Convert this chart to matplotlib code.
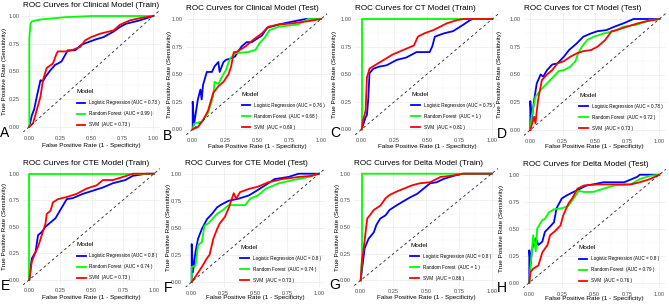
import matplotlib
matplotlib.use("Agg")
import matplotlib.pyplot as plt
from matplotlib.lines import Line2D
from matplotlib.ticker import MultipleLocator

plt.rcParams['font.family'] = ['Liberation Sans Narrow', 'Liberation Sans', 'DejaVu Sans']

# ---------------- data ----------------
titles = ["ROC Curves for Clinical Model (Train)", "ROC Curves for Clinical Model (Test)",
          "ROC Curves for CT Model (Train)", "ROC Curves for CT Model (Test)",
          "ROC Curves for CTE Model (Train)", "ROC Curves for CTE Model (Test)",
          "ROC Curves for Delta Model (Train)", "ROC Curves for Delta Model (Test)"]
letters = ["A", "B", "C", "D", "E", "F", "G", "H"]
models = ["Logistic Regression", "Random Forest ", "SVM "]
aucs = [["0.73", "0.99", "0.73"], ["0.76", "0.68", "0.69"],
        ["0.75", "1", "0.81"], ["0.78", "0.72", "0.73"],
        ["0.8", "0.74", "0.73"], ["0.8", "0.74", "0.73"],
        ["0.8", "1", "0.86"], ["0.8", "0.79", "0.76"]]

# A - clinical train
a_lr_x = [0, 0.02, 0.04, 0.06, 0.09, 0.11, 0.13, 0.17, 0.21, 0.23, 0.26, 0.29, 0.31, 0.37, 0.42, 0.49, 0.54, 0.60, 0.68, 0.73, 0.78, 0.89, 1.0]
a_lr_y = [0, 0.10, 0.16, 0.27, 0.42, 0.41, 0.45, 0.51, 0.56, 0.57, 0.59, 0.65, 0.69, 0.69, 0.74, 0.77, 0.79, 0.81, 0.86, 0.90, 0.93, 0.96, 1.0]
a_rf_x = [0, 0.0, 0.01, 0.02, 0.05, 0.10, 0.20, 0.30, 0.50, 1.0]
a_rf_y = [0, 0.80, 0.93, 0.95, 0.96, 0.97, 0.98, 0.99, 1.0, 1.0]
a_svm_x = [0, 0.03, 0.06, 0.09, 0.11, 0.14, 0.19, 0.22, 0.23, 0.30, 0.34, 0.41, 0.45, 0.50, 0.57, 0.68, 0.73, 0.81, 0.89, 1.0]
a_svm_y = [0, 0.03, 0.15, 0.27, 0.42, 0.53, 0.57, 0.66, 0.68, 0.68, 0.69, 0.72, 0.78, 0.81, 0.84, 0.87, 0.92, 0.96, 0.98, 1.0]

# B - clinical test
b_lr_x = [0, 0.0, 0.01, 0.04, 0.06, 0.07, 0.08, 0.11, 0.15, 0.17, 0.20, 0.21, 0.24, 0.26, 0.29, 0.33, 0.38, 0.42, 0.46, 0.50, 0.54, 0.58, 0.67, 0.75, 0.88, 1.0]
b_lr_y = [0, 0.25, 0.04, 0.27, 0.36, 0.27, 0.40, 0.52, 0.52, 0.57, 0.61, 0.52, 0.61, 0.63, 0.64, 0.66, 0.75, 0.79, 0.79, 0.82, 0.85, 0.92, 0.95, 0.97, 1.0, 1.0]
b_rf_x = [0, 0.01, 0.07, 0.12, 0.16, 0.17, 0.20, 0.23, 0.26, 0.29, 0.33, 0.43, 0.49, 0.52, 0.56, 0.60, 0.67, 0.82, 0.90, 1.0]
b_rf_y = [0, 0.05, 0.07, 0.15, 0.30, 0.43, 0.41, 0.48, 0.54, 0.64, 0.69, 0.70, 0.72, 0.78, 0.83, 0.90, 0.93, 0.95, 1.0, 1.0]
b_svm_x = [0, 0.04, 0.08, 0.12, 0.16, 0.20, 0.24, 0.28, 0.30, 0.32, 0.34, 0.41, 0.47, 0.54, 0.59, 0.67, 0.77, 0.90, 1.0]
b_svm_y = [0, 0.02, 0.08, 0.17, 0.33, 0.39, 0.43, 0.50, 0.57, 0.70, 0.70, 0.75, 0.81, 0.87, 0.93, 0.95, 0.96, 0.98, 1.0]

# C - CT train
c_lr_x = [0, 0.03, 0.04, 0.05, 0.06, 0.09, 0.14, 0.19, 0.27, 0.34, 0.42, 0.52, 0.54, 0.56, 0.63, 0.70, 0.74, 0.78, 0.83, 0.85, 1.0]
c_lr_y = [0, 0.11, 0.13, 0.27, 0.51, 0.55, 0.57, 0.58, 0.63, 0.65, 0.70, 0.70, 0.75, 0.84, 0.87, 0.89, 0.92, 0.95, 0.99, 1.0, 1.0]
c_rf_x = [0, 0.0, 0.02, 0.02, 1.0]
c_rf_y = [0, 1.0, 1.0, 1.0, 1.0]
c_svm_x = [0, 0.01, 0.03, 0.04, 0.06, 0.10, 0.17, 0.24, 0.32, 0.40, 0.43, 0.48, 0.55, 0.60, 0.65, 0.73, 0.78, 1.0]
c_svm_y = [0, 0.08, 0.17, 0.47, 0.55, 0.58, 0.63, 0.68, 0.72, 0.76, 0.84, 0.87, 0.90, 0.93, 0.96, 0.99, 1.0, 1.0]

# D - CT test
d_lr_x = [0, 0.0, 0.01, 0.03, 0.05, 0.08, 0.10, 0.13, 0.17, 0.21, 0.26, 0.30, 0.32, 0.36, 0.41, 0.47, 0.52, 0.59, 0.65, 0.72, 0.80, 1.0]
d_lr_y = [0, 0.26, 0.09, 0.27, 0.42, 0.50, 0.48, 0.54, 0.59, 0.60, 0.66, 0.72, 0.74, 0.78, 0.84, 0.87, 0.89, 0.90, 0.93, 0.96, 1.0, 1.0]
d_rf_x = [0, 0.01, 0.04, 0.08, 0.13, 0.18, 0.22, 0.26, 0.31, 0.35, 0.37, 0.40, 0.44, 0.49, 0.57, 0.65, 0.72, 0.83, 0.93, 1.0]
d_rf_y = [0, 0.12, 0.30, 0.36, 0.42, 0.48, 0.53, 0.54, 0.57, 0.62, 0.69, 0.75, 0.81, 0.84, 0.87, 0.89, 0.93, 0.95, 0.99, 1.0]
d_svm_x = [0, 0.03, 0.04, 0.06, 0.09, 0.13, 0.17, 0.21, 0.26, 0.31, 0.36, 0.41, 0.47, 0.52, 0.58, 0.63, 0.67, 0.72, 0.83, 0.90, 1.0]
d_svm_y = [0, 0.12, 0.06, 0.27, 0.45, 0.50, 0.54, 0.60, 0.62, 0.66, 0.69, 0.71, 0.72, 0.75, 0.81, 0.89, 0.90, 0.92, 0.96, 0.98, 1.0]

# E - CTE train
e_lr_x = [0, 0.01, 0.02, 0.05, 0.07, 0.10, 0.13, 0.17, 0.21, 0.23, 0.27, 0.30, 0.35, 0.43, 0.51, 0.59, 0.67, 0.77, 0.83, 0.94, 1.0]
e_lr_y = [0, 0.10, 0.20, 0.26, 0.42, 0.45, 0.50, 0.54, 0.58, 0.62, 0.70, 0.76, 0.77, 0.81, 0.84, 0.87, 0.91, 0.94, 0.98, 1.0, 1.0]
e_rf_x = [0, 0.0, 0.01, 0.01, 1.0]
e_rf_y = [0, 1.0, 1.0, 1.0, 1.0]
e_svm_x = [0, 0.02, 0.05, 0.07, 0.10, 0.13, 0.14, 0.17, 0.19, 0.23, 0.30, 0.38, 0.46, 0.54, 0.59, 0.67, 0.78, 0.83, 1.0]
e_svm_y = [0, 0.17, 0.26, 0.31, 0.42, 0.53, 0.62, 0.65, 0.73, 0.76, 0.78, 0.81, 0.86, 0.89, 0.94, 0.94, 0.98, 1.0, 1.0]

# F - CTE test
f_lr_x = [0, 0.0, 0.01, 0.03, 0.05, 0.08, 0.12, 0.16, 0.20, 0.24, 0.29, 0.37, 0.45, 0.52, 0.60, 0.65, 0.76, 0.84, 1.0]
f_lr_y = [0, 0.35, 0.09, 0.28, 0.40, 0.49, 0.58, 0.63, 0.69, 0.72, 0.75, 0.77, 0.80, 0.85, 0.91, 0.95, 0.97, 1.0, 1.0]
f_rf_x = [0, 0.0, 0.03, 0.05, 0.08, 0.10, 0.13, 0.16, 0.20, 0.24, 0.29, 0.34, 0.42, 0.46, 0.52, 0.58, 0.68, 0.79, 0.92, 1.0]
f_rf_y = [0, 0.14, 0.15, 0.34, 0.37, 0.52, 0.54, 0.58, 0.63, 0.66, 0.71, 0.71, 0.71, 0.77, 0.80, 0.86, 0.91, 0.94, 0.97, 1.0]
f_svm_x = [0, 0.03, 0.08, 0.12, 0.14, 0.17, 0.20, 0.22, 0.26, 0.29, 0.33, 0.35, 0.38, 0.45, 0.52, 0.60, 0.71, 0.84, 0.94, 1.0]
f_svm_y = [0, 0.05, 0.14, 0.22, 0.25, 0.40, 0.49, 0.54, 0.60, 0.68, 0.82, 0.77, 0.83, 0.86, 0.88, 0.92, 0.95, 0.97, 0.98, 1.0]

# G - delta train
g_lr_x = [0, 0.02, 0.03, 0.06, 0.10, 0.12, 0.15, 0.19, 0.22, 0.27, 0.31, 0.38, 0.43, 0.48, 0.53, 0.58, 0.63, 0.71, 0.78, 1.0]
g_lr_y = [0, 0.20, 0.30, 0.39, 0.45, 0.52, 0.58, 0.61, 0.66, 0.70, 0.73, 0.78, 0.81, 0.86, 0.91, 0.92, 0.95, 0.98, 1.0, 1.0]
g_rf_x = [0, 0.01, 0.01, 0.02, 1.0]
g_rf_y = [0, 0.20, 1.0, 1.0, 1.0]
g_svm_x = [0, 0.01, 0.02, 0.05, 0.07, 0.10, 0.15, 0.19, 0.22, 0.27, 0.33, 0.39, 0.45, 0.53, 0.61, 0.69, 0.78, 1.0]
g_svm_y = [0, 0.20, 0.27, 0.58, 0.61, 0.66, 0.70, 0.77, 0.80, 0.83, 0.86, 0.89, 0.91, 0.92, 0.97, 0.98, 1.0, 1.0]

# H - delta test
h_lr_x = [0, 0.0, 0.01, 0.02, 0.05, 0.07, 0.10, 0.12, 0.16, 0.19, 0.21, 0.25, 0.29, 0.34, 0.39, 0.44, 0.49, 0.57, 0.73, 0.83, 0.85, 1.0]
h_lr_y = [0, 0.30, 0.16, 0.31, 0.41, 0.35, 0.38, 0.47, 0.52, 0.56, 0.69, 0.78, 0.81, 0.84, 0.87, 0.90, 0.91, 0.93, 0.93, 0.98, 1.0, 1.0]
h_rf_x = [0, 0.01, 0.03, 0.05, 0.06, 0.10, 0.12, 0.15, 0.19, 0.25, 0.30, 0.34, 0.38, 0.42, 0.49, 0.57, 0.65, 0.78, 0.85, 0.93, 1.0]
h_rf_y = [0, 0.16, 0.44, 0.29, 0.50, 0.58, 0.59, 0.65, 0.68, 0.69, 0.71, 0.78, 0.85, 0.84, 0.84, 0.87, 0.90, 0.91, 0.96, 0.99, 1.0]
h_svm_x = [0, 0.01, 0.03, 0.07, 0.10, 0.14, 0.16, 0.20, 0.24, 0.26, 0.30, 0.33, 0.37, 0.42, 0.52, 0.65, 0.78, 0.85, 0.93, 1.0]
h_svm_y = [0, 0.10, 0.13, 0.16, 0.28, 0.35, 0.44, 0.48, 0.53, 0.62, 0.73, 0.78, 0.87, 0.90, 0.91, 0.91, 0.91, 0.93, 0.96, 1.0]

curves = [
    [(a_lr_x, a_lr_y), (a_rf_x, a_rf_y), (a_svm_x, a_svm_y)],
    [(b_lr_x, b_lr_y), (b_rf_x, b_rf_y), (b_svm_x, b_svm_y)],
    [(c_lr_x, c_lr_y), (c_rf_x, c_rf_y), (c_svm_x, c_svm_y)],
    [(d_lr_x, d_lr_y), (d_rf_x, d_rf_y), (d_svm_x, d_svm_y)],
    [(e_lr_x, e_lr_y), (e_rf_x, e_rf_y), (e_svm_x, e_svm_y)],
    [(f_lr_x, f_lr_y), (f_rf_x, f_rf_y), (f_svm_x, f_svm_y)],
    [(g_lr_x, g_lr_y), (g_rf_x, g_rf_y), (g_svm_x, g_svm_y)],
    [(h_lr_x, h_lr_y), (h_rf_x, h_rf_y), (h_svm_x, h_svm_y)],
]

colors = ["#0000FF", "#00FF00", "#FF0000"]

# ---------------- layout (pixels) ----------------
W, H = 669, 304
# pixel position of data x=0, x=1, y=1, y=0 for every panel
panel_px = [(29.3, 153.3, 16.0, 126.7), (192.7, 321.0, 19.0, 129.3),
            (361.7, 492.3, 19.0, 129.3), (530.3, 659.3, 19.0, 130.0),
            (29.3, 154.0, 173.7, 279.7), (191.7, 319.0, 173.7, 282.0),
            (360.7, 491.7, 173.7, 280.3), (529.3, 659.3, 174.7, 282.7)]
ylab_px = [5, 170, 335, 500, 5, 169, 337, 501]
xlab_py = [145.7, 146.7, 146.7, 146.7, 297.7, 297.7, 297.7, 298.7]
letter_pos = [(5, 133), (168, 136), (335, 133), (502, 134),
              (5, 286), (168, 288), (335, 285), (502, 288)]

fig = plt.figure(figsize=(W / 100, H / 100), dpi=100)

for i in range(8):
    x0, x1, yt, yb = panel_px[i]
    dx, dy = x1 - x0, yb - yt
    left, right = x0 - 0.05 * dx, x1 + 0.05 * dx
    top, bottom = yt - 0.05 * dy, yb + 0.05 * dy
    ax = fig.add_axes([left / W, 1 - bottom / H, (right - left) / W, (bottom - top) / H])
    ax.set_xlim(-0.05, 1.05)
    ax.set_ylim(-0.05, 1.05)
    for s in ax.spines.values():
        s.set_visible(False)
    ax.xaxis.set_major_locator(MultipleLocator(0.25))
    ax.yaxis.set_major_locator(MultipleLocator(0.25))
    ax.xaxis.set_minor_locator(MultipleLocator(0.125))
    ax.yaxis.set_minor_locator(MultipleLocator(0.125))
    ax.grid(which='major', color='#EBEBEB', lw=0.5)
    ax.grid(which='minor', color='#F2F2F2', lw=0.3)
    ax.set_axisbelow(True)
    ax.tick_params(which='both', length=0, labelsize=4.1, labelcolor='#4D4D4D', pad=2.5)
    ax.xaxis.set_major_formatter(lambda v, p: f"{v:.2f}")
    ax.yaxis.set_major_formatter(lambda v, p: f"{v:.2f}")

    for (cx, cy), c in zip(curves[i], colors):
        ax.plot(cx, cy, color=c, lw=1.3, solid_joinstyle='round')
    ax.axline((0, 0), (1, 1), color='#333333', lw=0.65, ls=(0, (3, 3)))

    ax.set_title(titles[i], loc='left', fontsize=5.9, pad=2.5, color='black')
    ax.set_xlabel("False Positive Rate (1 - Specificity)", fontsize=4.6)
    ax.set_ylabel("True Positive Rate (Sensitivity)", fontsize=4.6)
    ax.yaxis.set_label_coords((ylab_px[i] - left) / (right - left), 0.5)
    ax.xaxis.set_label_coords(0.5, (bottom - xlab_py[i]) / (bottom - top))
    ax.xaxis.label.set_verticalalignment('center')
    ax.yaxis.label.set_verticalalignment('center')

    handles = [Line2D([], [], color=c, lw=1.3) for c in colors]
    labels = [f"{m} (AUC = {a} )" for m, a in zip(models, aucs[i])]
    ax.legend(handles, labels, title="Model", loc='lower left',
              bbox_to_anchor=(0.375, 0.022), frameon=False, fontsize=3.3,
              title_fontsize=4.6, handlelength=1.9, handletextpad=0.8,
              labelspacing=1.3, borderpad=0.0, alignment='left')

    lx, ly = letter_pos[i]
    fig.text(lx / W, 1 - ly / H, letters[i], fontsize=10, ha='center', va='center')

fig.savefig("out.png", dpi=100)
